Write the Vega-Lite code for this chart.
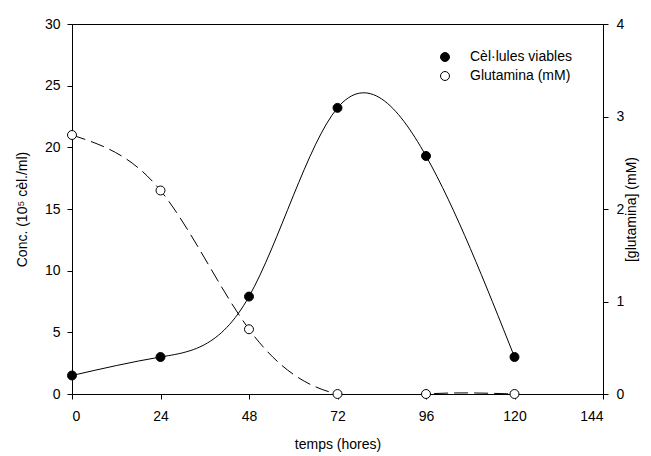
{
  "$schema": "https://vega.github.io/schema/vega-lite/v6.json",
  "width": 531,
  "height": 370,
  "autosize": {"type": "none"},
  "padding": {"left": 72, "top": 24, "right": 48, "bottom": 62},
  "background": "white",
  "config": {
    "font": "Liberation Sans",
    "view": {"stroke": "black", "strokeWidth": 1},
    "axis": {
      "grid": false,
      "domainColor": "black",
      "tickColor": "black",
      "labelColor": "black",
      "titleColor": "black",
      "labelFontSize": 14,
      "titleFontSize": 14,
      "titleFontWeight": "normal",
      "tickSize": 5,
      "labelFont": "Liberation Sans",
      "titleFont": "Liberation Sans"
    },
    "legend": {"labelFont": "Liberation Sans", "labelFontSize": 14, "labelColor": "black"}
  },
  "data": {
    "values": [
      {"t": 0, "v": 1.5, "s": "Cèl·lules viables"},
      {"t": 24, "v": 3.0, "s": "Cèl·lules viables"},
      {"t": 48, "v": 7.9, "s": "Cèl·lules viables"},
      {"t": 72, "v": 23.2, "s": "Cèl·lules viables"},
      {"t": 96, "v": 19.3, "s": "Cèl·lules viables"},
      {"t": 120, "v": 3.0, "s": "Cèl·lules viables"},
      {"t": 0, "v": 2.8, "s": "Glutamina (mM)"},
      {"t": 24, "v": 2.2, "s": "Glutamina (mM)"},
      {"t": 48, "v": 0.7, "s": "Glutamina (mM)"},
      {"t": 72, "v": 0, "s": "Glutamina (mM)"},
      {"t": 96, "v": 0, "s": "Glutamina (mM)"},
      {"t": 120, "v": 0, "s": "Glutamina (mM)"}
    ]
  },
  "encoding": {
    "x": {
      "field": "t",
      "type": "quantitative",
      "scale": {"domain": [0, 144], "nice": false},
      "axis": {"values": [0, 24, 48, 72, 96, 120, 144], "title": "temps (hores)", "labelPadding": 10, "titlePadding": 14}
    }
  },
  "layer": [
    {
      "transform": [{"filter": "datum.s == 'Cèl·lules viables'"}],
      "encoding": {
        "y": {
          "field": "v",
          "type": "quantitative",
          "scale": {"domain": [0, 30], "nice": false},
          "axis": {"orient": "left", "values": [0, 5, 10, 15, 20, 25, 30], "title": "Conc. (10⁵ cèl./ml)", "labelPadding": 7, "titlePadding": 15}
        }
      },
      "layer": [
        {"mark": {"type": "line", "interpolate": "natural", "color": "black", "strokeWidth": 1, "clip": true}},
        {
          "mark": {"type": "point", "shape": "circle", "filled": true, "size": 80, "stroke": "black", "strokeWidth": 1, "opacity": 1},
          "encoding": {
            "fill": {
              "field": "s",
              "type": "nominal",
              "scale": {"domain": ["Cèl·lules viables", "Glutamina (mM)"], "range": ["black", "white"]},
              "legend": {
                "title": null,
                "orient": "none",
                "legendX": 366,
                "legendY": 26,
                "padding": 0,
                "symbolType": "circle",
                "symbolSize": 80,
                "symbolStrokeColor": "black",
                "symbolStrokeWidth": 1,
                "labelOffset": 18,
                "rowPadding": 5
              }
            }
          }
        }
      ]
    },
    {
      "transform": [{"filter": "datum.s == 'Glutamina (mM)'"}],
      "encoding": {
        "y": {
          "field": "v",
          "type": "quantitative",
          "scale": {"domain": [0, 4], "nice": false},
          "axis": {"orient": "right", "values": [0, 1, 2, 3, 4], "title": "[glutamina] (mM)", "titleAngle": 270, "labelPadding": 8, "titlePadding": 15}
        }
      },
      "layer": [
        {"mark": {"type": "line", "interpolate": "natural", "color": "black", "strokeWidth": 1, "strokeDash": [14, 6], "clip": true}},
        {
          "mark": {"type": "point", "shape": "circle", "filled": true, "size": 80, "stroke": "black", "strokeWidth": 1, "opacity": 1},
          "encoding": {"fill": {"field": "s", "type": "nominal"}}
        }
      ]
    }
  ],
  "resolve": {"scale": {"y": "independent"}}
}
